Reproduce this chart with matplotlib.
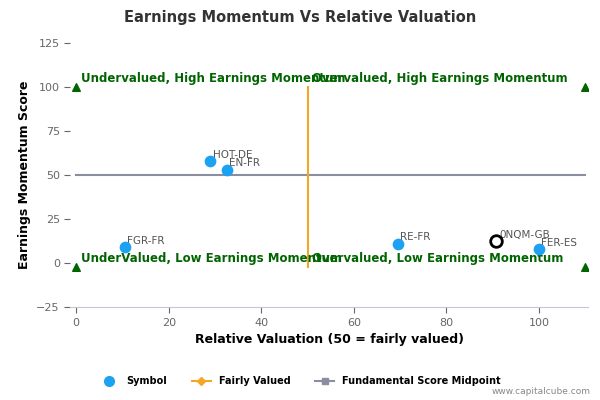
import matplotlib.pyplot as plt
from matplotlib.lines import Line2D

symbols = ["HOT-DE", "EN-FR", "FGR-FR", "RE-FR", "FER-ES"]
sym_x = [29.0, 32.5, 10.5, 69.5, 100.0]
sym_y = [58.0, 53.0, 9.0, 11.0, 8.0]
focus_name = "0NQM-GB"
focus_x, focus_y = 90.7, 12.5
fair_x = [50, 50]
fair_y = [-2, 100]
mid_x = [0, 110]
mid_y = [50, 50]
corner_x = [0, 110, 0, 110]
corner_y = [100, 100, -2, -2]
quad_text = ["Undervalued, High Earnings Momentum", "Overvalued, High Earnings Momentum",
             "UnderValued, Low Earnings Momentum", "Overvalued, Low Earnings Momentum"]
quad_pos = [(1, 101), (51, 101), (1, -1), (51, -1)]

fig = plt.figure(figsize=(6, 4), dpi=100)
ax = fig.add_axes([0.117, 0.232, 0.863, 0.66])
green = "#006400"

ax.plot(mid_x, mid_y, color="#8a8fa0", lw=1.5, zorder=2)
ax.plot(fair_x, fair_y, color="#f5a623", lw=1.5, zorder=2)
ax.scatter(corner_x, corner_y, marker="^", color=green, s=30, zorder=3)
ax.scatter(sym_x, sym_y, color="#1da1f2", s=55, zorder=4)
ax.scatter([focus_x], [focus_y], facecolor="white", edgecolor="black", s=70, lw=2, zorder=5)
for n, x, y in zip(symbols, sym_x, sym_y):
    ax.text(x + 0.5, y + 2, n, fontsize=7.5, color="#555555")
ax.text(focus_x + 0.8, focus_y + 2, focus_name, fontsize=7.5, color="#555555")
for t, (x, y) in zip(quad_text, quad_pos):
    ax.text(x, y, t, fontsize=8.5, color=green, fontweight="bold", va="bottom")

ax.set_xlim(-1.3, 110.6)
ax.set_ylim(-25, 125)
ax.set_xticks(range(0, 101, 20))
ax.set_yticks(range(-25, 126, 25))
ax.tick_params(labelsize=8, colors="#666666", length=4)
for s in ["top", "right", "left"]:
    ax.spines[s].set_visible(False)
ax.spines["bottom"].set_color("#c0c8d8")
ax.set_xlabel("Relative Valuation (50 = fairly valued)", fontsize=9, fontweight="bold")
ax.set_ylabel("Earnings Momentum Score", fontsize=9, fontweight="bold")
fig.suptitle("Earnings Momentum Vs Relative Valuation", x=0.5, y=0.975, fontsize=10.5,
             fontweight="bold", color="#333333")

handles = [Line2D([], [], marker="o", ls="", color="#1da1f2", markersize=7),
           Line2D([], [], marker="D", color="#f5a623", markersize=4),
           Line2D([], [], marker="s", color="#8a8fa0", markersize=5)]
fig.legend(handles, ["Symbol", "Fairly Valued", "Fundamental Score Midpoint"],
           loc="center", bbox_to_anchor=(0.5, 0.047), ncol=3, frameon=False,
           prop={"size": 7, "weight": "bold"}, columnspacing=2.5)
fig.text(0.985, 0.015, "www.capitalcube.com", ha="right", fontsize=6.5, color="#888888")

fig.savefig("out.png")
